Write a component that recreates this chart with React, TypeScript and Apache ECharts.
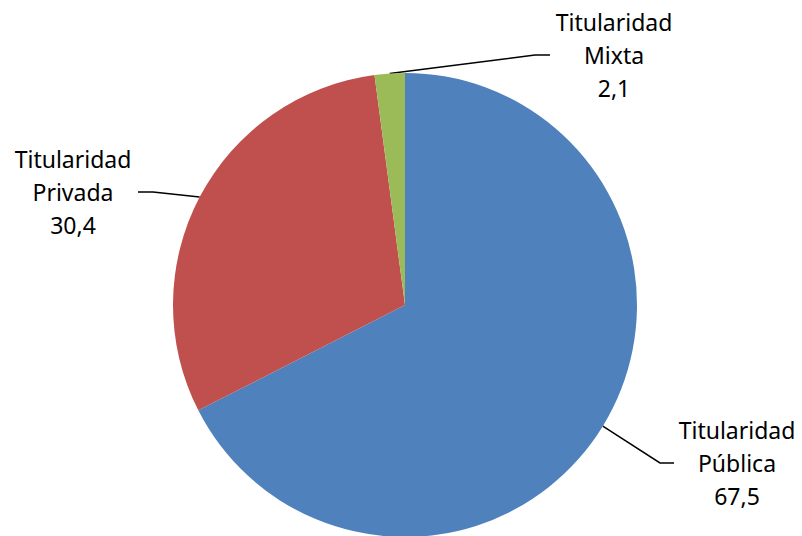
import React, { useEffect, useRef } from "react";
import * as echarts from "echarts";

const categories = ["Titularidad Pública", "Titularidad Privada", "Titularidad Mixta"];
const values = [67.5, 30.4, 2.1];
const colors = ["#4F81BD", "#C0504D", "#9BBB59"];

// label placement: text centre x, middle-line y, elbow x, line end x
const labelPlacement = [
  { x: 737, y: 463, elbowX: 660, endX: 674 },
  { x: 73, y: 192, elbowX: 153, endX: 138 },
  { x: 614, y: 55, elbowX: 535, endX: 550 },
];

export default function App() {
  const ref = useRef<HTMLDivElement>(null);
  useEffect(() => {
    if (!ref.current) return;
    const chart = echarts.init(ref.current, undefined, { renderer: "svg" });
    chart.setOption({
      animation: false,
      backgroundColor: "#ffffff",
      series: [
        {
          type: "pie",
          center: [405, 305],
          radius: [0, 232],
          startAngle: 90,
          clockwise: true,
          avoidLabelOverlap: false,
          data: categories.map((name, i) => ({
            name,
            value: values[i],
            itemStyle: { color: colors[i] },
          })),
          itemStyle: { borderWidth: 0 },
          label: {
            show: true,
            position: "outside",
            fontFamily: "Noto Sans",
            fontSize: 23,
            lineHeight: 33,
            color: "#000000",
            align: "center",
            formatter: (p: any) => {
              const parts = String(p.name).split(" ");
              return parts.join("\n") + "\n" + Number(p.value).toFixed(1).replace(".", ",");
            },
          },
          labelLine: {
            show: true,
            length: 20,
            length2: 15,
            lineStyle: { color: "#000000", width: 1.5 },
          },
          labelLayout: (params: any) => {
            const pl = labelPlacement[params.dataIndex];
            const p0 = params.labelLinePoints ? params.labelLinePoints[0] : [pl.elbowX, pl.y];
            return {
              x: pl.x,
              y: pl.y,
              align: "center",
              verticalAlign: "middle",
              labelLinePoints: [p0, [pl.elbowX, pl.y], [pl.endX, pl.y]],
            };
          },
        },
      ],
    });
    return () => chart.dispose();
  }, []);
  return (
    <div
      ref={ref}
      style={{ position: "fixed", left: 0, top: 0, width: 802, height: 536 }}
    />
  );
}
